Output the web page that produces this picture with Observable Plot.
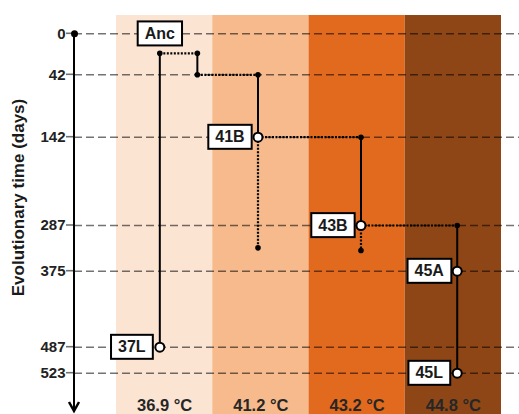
<!DOCTYPE html>
<html><head><meta charset="utf-8">
<script src="https://cdn.jsdelivr.net/npm/d3@7"></script>
<script src="https://cdn.jsdelivr.net/npm/@observablehq/plot@0.6"></script>
<style>
html,body{margin:0;padding:0;background:#fff;}
</style></head><body><div id="chart"></div>
<script>
// ---- data ----
const temperatures = ["36.9 °C", "41.2 °C", "43.2 °C", "44.8 °C"];
const columnColors = ["#fce4d3", "#f6ba8c", "#e26a1f", "#8e4616"];
const timeTicks = [0, 42, 142, 287, 375, 487, 523];

// population nodes (column position within the temperature band, time in days)
const nodeNames  = ["Anc", "41B", "43B", "37L", "45A", "45L"];
const nodeColumn = [0.45, 1.47, 2.54, 0.45, 3.54, 3.54];
const nodeTime   = [0, 142, 287, 487, 375, 523];

// solid lineages
const solidColumn = [0.45, 0.84, 1.47, 2.54, 3.54];
const solidStart  = [20, 20, 42, 142, 287];
const solidEnd    = [487, 42, 142, 287, 523];

// dotted transfers / side branches
const dottedColumn1 = [0.45, 0.84, 1.47, 2.54, 1.47, 2.54];
const dottedColumn2 = [0.84, 1.47, 2.54, 3.54, 1.47, 2.54];
const dottedStart   = [20, 42, 142, 287, 142, 287];
const dottedEnd     = [20, 42, 142, 287, 330, 335];

// junction dots
const junctionColumn = [0.45, 0.84, 0.84, 1.47, 2.54, 3.54, 1.47, 2.54];
const junctionTime   = [20, 20, 42, 42, 142, 287, 330, 335];

// ---- tables ----
const columns = temperatures.map((t, i) => ({label: t, i, color: columnColors[i]}));
const nodes = nodeNames.map((n, i) => ({name: n, x: nodeColumn[i], t: nodeTime[i]}));
const solids = solidColumn.map((x, i) => ({x, t1: solidStart[i], t2: solidEnd[i]}));
const dotted = dottedColumn1.map((x, i) => ({x1: x, x2: dottedColumn2[i], t1: dottedStart[i], t2: dottedEnd[i]}));
const junctions = junctionColumn.map((x, i) => ({x, t: junctionTime[i]}));

// the original figure's time axis is schematic (non-uniform spacing between ticks)
const tickPixels = [33.3, 74.3, 136.7, 225, 270.7, 346.7, 372.7];
const schematicTime = d3.scaleLinear().domain(timeTicks).range(tickPixels);

// axis line with arrow head, plus the small tick marks
function timeArrow(index, scales, values, dimensions) {
  const x = dimensions.marginLeft;
  const yScale = (t) => {
    const v = scales && scales.y ? scales.y(schematicTime(t)) : NaN;
    return isFinite(v) ? v : schematicTime(t);
  };
  const y0 = yScale(0);
  const yEnd = dimensions.height - 3;
  const g = d3.create("svg:g");
  g.selectAll("line.tick").data(timeTicks).join("line").attr("class", "tick")
    .attr("x1", x - 8).attr("x2", x - 1)
    .attr("y1", d => yScale(d)).attr("y2", d => yScale(d))
    .attr("stroke", "#707070").attr("stroke-width", 1.6);
  g.append("line").attr("x1", x).attr("x2", x).attr("y1", y0).attr("y2", yEnd - 1)
    .attr("stroke", "black").attr("stroke-width", 2);
  g.append("path").attr("d", `M${x - 5},${yEnd - 9}L${x},${yEnd}L${x + 5},${yEnd - 9}`)
    .attr("fill", "none").attr("stroke", "black").attr("stroke-width", 2.5)
    .attr("stroke-linejoin", "miter");
  return g.node();
}

const plot = Plot.plot({
  width: 519,
  height: 414,
  marginLeft: 74,
  marginRight: 0,
  marginTop: 15,
  marginBottom: 0,
  style: {fontFamily: "'Liberation Sans', Arial, sans-serif", background: "white"},
  x: {domain: [0, 4], range: [116, 501], axis: null},
  y: {transform: schematicTime, range: [tickPixels[0], tickPixels[tickPixels.length - 1]], axis: null},
  color: {type: "identity"},
  marks: [
    Plot.rect(columns, {x1: d => d.i, x2: d => d.i + 1, fill: d => d.color}),
    Plot.ruleY(timeTicks, {stroke: "black", strokeOpacity: 0.55, strokeWidth: 1.6, strokeDasharray: "8,4"}),
    Plot.text(timeTicks, {y: d => d, text: d => String(d), frameAnchor: "left", textAnchor: "end", dx: -9,
      fontSize: 15, fontWeight: "bold", fill: "#222"}),
    timeArrow,
    Plot.dot([0], {y: d => d, frameAnchor: "left", r: 3.5, fill: "black"}),
    Plot.link(dotted, {x1: "x1", x2: "x2", y1: "t1", y2: "t2", stroke: "black", strokeWidth: 2.2, strokeDasharray: "2,1.5"}),
    Plot.link(solids, {x1: "x", x2: "x", y1: "t1", y2: "t2", stroke: "black", strokeWidth: 2}),
    Plot.dot(junctions, {x: "x", y: "t", r: 2.8, fill: "black"}),
    Plot.dot(nodes.filter(d => d.name !== "Anc"), {x: "x", y: "t", r: 4.5, fill: "white", stroke: "black", strokeWidth: 2}),
    Plot.text(nodes.filter(d => d.name === "Anc"), {x: "x", y: "t", text: "name", fontSize: 16, fontWeight: "bold", fill: "#1a1a1a", className: "node-label"}),
    Plot.text(nodes.filter(d => d.name !== "Anc"), {x: "x", y: "t", text: "name", dx: -28, fontSize: 16, fontWeight: "bold", fill: "#1a1a1a", className: "node-label"}),
    Plot.text(columns, {x: d => d.i + 0.5, text: "label", frameAnchor: "bottom", lineAnchor: "bottom", dy: -4, fontSize: 16.5, fontWeight: "bold", fill: "#262626"}),
    Plot.text(["Evolutionary time (days)"], {text: d => d, frameAnchor: "left", textAnchor: "middle", rotate: -90, dx: -56, dy: -17.5, fontSize: 17, fontWeight: "bold", fill: "#1a1a1a"})
  ]
});

document.getElementById("chart").appendChild(plot);

// white bordered boxes behind the population labels
d3.select(plot).selectAll("g.node-label text").each(function() {
  const bb = this.getBBox();
  const padX = 7, h = 24;
  const cy = bb.y + bb.height / 2;
  d3.select(this.parentNode).insert("rect", () => this)
    .attr("x", bb.x - padX).attr("y", cy - h / 2)
    .attr("width", bb.width + 2 * padX).attr("height", h)
    .attr("transform", this.getAttribute("transform"))
    .attr("fill", "white").attr("stroke", "black").attr("stroke-width", 2);
});
</script>
</body></html>
